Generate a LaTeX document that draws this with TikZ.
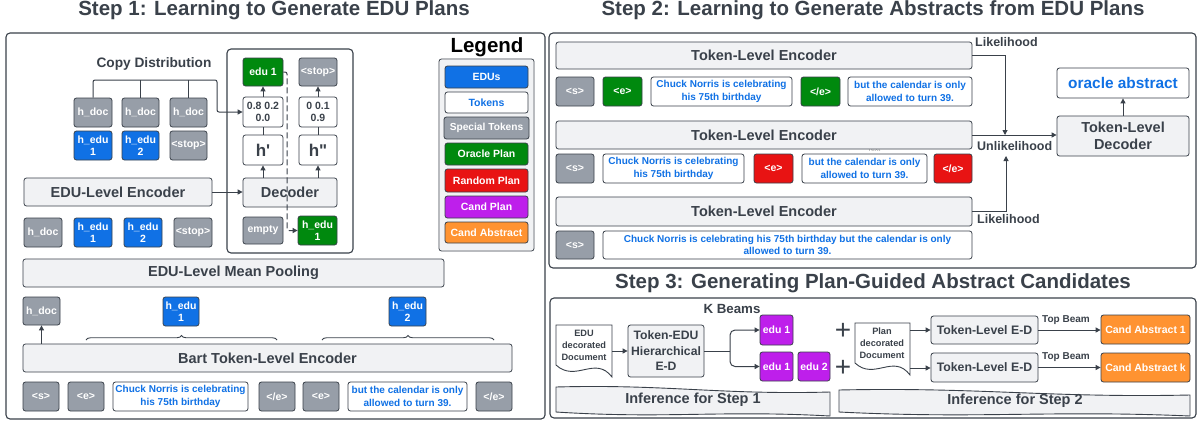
\documentclass[tikz,border=0pt]{standalone}
\usepackage{fontspec}
\setmainfont{Liberation Sans}
\newfontfamily\nomapfont{Liberation Sans}[Ligatures=TeXOff]
\usetikzlibrary{arrows.meta,decorations.pathreplacing}
\definecolor{bd}{HTML}{3A414A}
\definecolor{txt}{HTML}{3A414A}
\definecolor{lgray}{HTML}{F1F2F4}
\definecolor{sgray}{HTML}{979EA8}
\definecolor{eblue}{HTML}{1071E5}
\definecolor{ogreen}{HTML}{00890E}
\definecolor{rred}{HTML}{E81313}
\definecolor{cpurple}{HTML}{BE1FEB}
\definecolor{corange}{HTML}{FF9331}
\newcommand{\fs}[2]{\fontsize{#1}{#2}\selectfont}
\newcommand{\bx}[7]{\node[#2, minimum width={#5-#3}, minimum height={#6-#4}] (#1) at ({(#3+#5)/2},{(#4+#6)/2}) {#7};}
\newcommand{\banner}[4]{\path[draw=bd, line width=0.9pt, fill=lgray] (#1,#2) .. controls ({#1+0.4*(#3-#1)},{#2-3}) and ({#1+0.6*(#3-#1)},{#2+8}) .. (#3,{#2+5}) -- (#3,#4) .. controls ({#1+0.6*(#3-#1)},{#4-6}) and ({#1+0.4*(#3-#1)},{#4+3}) .. (#1,{#4-4}) -- cycle;}
\newcommand{\docshp}[4]{\path[draw=bd, line width=0.9pt, fill=white] (#1,{#4-12}) -- (#1,#2) -- (#3,#2) -- (#3,#4) .. controls ({#1+0.7*(#3-#1)},{#4-22}) and ({#1+0.35*(#3-#1)},{#4+6}) .. (#1,{#4-12}) -- cycle;}
\tikzset{
  bxs/.style={draw=bd, line width=0.8pt, rounded corners=2.5pt, align=center, inner sep=0pt, font=\bfseries\fs{10.5}{12.5}},
  sp/.style={bxs, fill=sgray, text=white},
  edu/.style={bxs, fill=eblue, text=white},
  tok/.style={bxs, fill=white, text=eblue, font=\bfseries\fs{10}{12.5}},
  orc/.style={bxs, fill=ogreen, text=white},
  rnd/.style={bxs, fill=rred, text=white},
  cpl/.style={bxs, fill=cpurple, text=white},
  cab/.style={bxs, fill=corange, text=white},
  wht/.style={bxs, fill=white, text=txt},
  encs/.style={bxs, fill=lgray, text=txt, font=\bfseries\fs{14.5}{17.5}},
  outerbox/.style={draw=bd, line width=1.1pt, rounded corners=4pt, inner sep=0pt, fill=white},
  ttl/.style={text=txt, font=\bfseries\fs{20.5}{24}, inner sep=0pt},
  lbl/.style={text=txt, font=\bfseries\fs{12.5}{15}, inner sep=0pt},
  docl/.style={text=txt, align=center, font=\bfseries\fs{9.2}{12}, inner sep=0pt},
  arr/.style={draw=bd, line width=1pt, -{Triangle[length=5pt,width=5pt]}},
  ln/.style={draw=bd, line width=1pt},
}
\begin{document}
\begin{tikzpicture}[x=1pt,y=-1pt]
\useasboundingbox (0,0) rectangle (1198,423);
% ---------------- Step 1 ----------------
\node[ttl] (t1) at (274,10) {Step 1: Learning to Generate EDU Plans};
\bx{s1}{outerbox}{6}{33}{545}{419}{}
\node[lbl, font=\bfseries\fs{13.7}{16}] (cd) at (154,64) {Copy Distribution};
\bx{hd1}{sp}{74}{98}{112}{127}{h\_doc}
\bx{hd2}{sp}{122}{98}{159}{127}{h\_doc}
\bx{hd3}{sp}{170}{98}{207}{127}{h\_doc}
\bx{he1}{edu}{74}{131}{112}{160}{h\_edu\\1}
\bx{he2}{edu}{122}{131}{159}{160}{h\_edu\\2}
\bx{st1}{sp}{170}{131}{207}{160}{<stop>}
\bx{dg}{outerbox}{227}{49}{353}{253}{}
\bx{e1}{orc}{243}{58}{283}{86}{edu 1}
\bx{stp}{sp}{299}{58}{337}{86}{<stop>}
\bx{p1}{wht}{243}{97}{283}{127}{0.8 0.2\\0.0}
\bx{p2}{wht}{299}{97}{337}{127}{0 0.1\\0.9}
\bx{hp}{wht, font=\nomapfont\bfseries\fs{17}{20}}{243}{135}{283}{165}{h'}
\bx{hpp}{wht, font=\nomapfont\bfseries\fs{17}{20}}{299}{135}{337}{165}{h"}
\bx{dec}{encs}{243}{178}{337}{207}{Decoder}
\bx{emp}{sp}{243}{217}{283}{244}{empty}
\bx{heg}{orc}{298}{216}{337}{245}{h\_edu\\1}
\coordinate (cdc) at (217,80);
\draw[arr, rounded corners=2pt] (hd1.north) |- (cdc) |- (p1.west);
\draw[ln] (hd2.north) -- (hd2.north |- cdc);
\draw[ln] (hd3.north) -- (hd3.north |- cdc);
\draw[ln] (hp.north) -- (p1.south);
\draw[ln] (hpp.north) -- (p2.south);
\draw[arr] (p1.north) -- (e1.south);
\draw[arr] (p2.north) -- (stp.south);
\draw[arr] (dec.north -| hp.south) -- (hp.south);
\draw[arr] (dec.north -| hpp.south) -- (hpp.south);
\draw[arr, dash pattern=on 6pt off 3pt, rounded corners=2pt] (e1.east) -- (287,72) |- (heg.west);
\bx{enc}{encs}{24}{178}{212}{206}{EDU-Level Encoder}
\draw[arr] (enc.east) -- (enc.east -| dec.west);
\bx{r1}{sp}{24}{218}{62}{247}{h\_doc}
\bx{r2}{edu}{74}{218}{112}{247}{h\_edu\\1}
\bx{r3}{edu}{124}{218}{162}{247}{h\_edu\\2}
\bx{r4}{sp}{174}{218}{212}{247}{<stop>}
\bx{pool}{encs}{23}{259}{444}{287}{EDU-Level Mean Pooling}
\bx{hdb}{sp}{23}{297}{60}{325}{h\_doc}
\bx{hb1}{edu}{163}{297}{199}{326}{h\_edu\\1}
\bx{hb2}{edu}{389}{297}{426}{326}{h\_edu\\2}
\bx{bart}{encs}{23}{344}{512}{372}{Bart Token-Level Encoder}
\draw[arr] (hdb.south |- bart.north) -- (hdb.south);
\draw[ln, line width=0.9pt, decorate, decoration={brace, amplitude=4.5pt}] (86,340) coordinate (br1a) -- (277,340) coordinate (br1b);
\draw[ln, line width=0.9pt, decorate, decoration={brace, amplitude=4.5pt}] (322,340) coordinate (br2a) -- (494,340) coordinate (br2b);
\bx{ts}{sp}{23}{382}{59}{411}{<s>}
\bx{tea}{sp}{68}{382}{104}{411}{<e>}
\bx{tc}{tok}{113}{382}{248}{411}{Chuck Norris is celebrating\\his 75th birthday}
\bx{tea2}{sp}{259}{382}{295}{411}{</e>}
\bx{teb}{sp}{303}{382}{339}{411}{<e>}
\bx{tb}{tok}{348}{382}{467}{411}{but the calendar is only\\allowed to turn 39.}
\bx{teb2}{sp}{476}{382}{512}{411}{</e>}
% legend
\node[inner sep=0pt, font=\bfseries\fs{20.5}{24}] (lgt) at (487,47) {Legend};
\bx{lg}{bxs}{439}{59}{534}{251}{}
\path[fill=lgray] (lg.north west) ++(1,1) rectangle ([xshift=-1pt,yshift=1pt]lg.south east);
\bx{l1}{edu}{445}{66}{528}{88}{EDUs}
\bx{l2}{tok, font=\bfseries\fs{10.5}{12}}{445}{92}{528}{113}{Tokens}
\bx{l3}{sp, font=\bfseries\fs{10.2}{12}}{444}{117}{529}{139}{Special Tokens}
\bx{l4}{orc}{445}{143}{528}{165}{Oracle Plan}
\bx{l5}{rnd}{445}{169}{528}{192}{Random Plan}
\bx{l6}{cpl}{445}{196}{528}{218}{Cand Plan}
\bx{l7}{cab}{445}{222}{528}{243}{Cand Abstract}
% ---------------- Step 2 ----------------
\node[ttl] (t2) at (873,10) {Step 2: Learning to Generate Abstracts from EDU Plans};
\bx{s2}{outerbox}{549}{33}{1196}{268}{}
\bx{enc1}{encs}{556}{42}{972}{69}{Token-Level Encoder}
\bx{a1}{sp}{556}{77}{594}{106}{<s>}
\bx{a2}{orc}{603}{77}{642}{106}{<e>}
\bx{a3}{tok}{651}{77}{792}{106}{Chuck Norris is celebrating\\his 75th birthday}
\bx{a4}{orc}{801}{77}{840}{106}{</e>}
\bx{a5}{tok}{848}{77}{972}{106}{but the calendar is only\\allowed to turn 39.}
\node[text=gray!70, font=\fs{7}{8}, inner sep=0pt] (txtart) at (874,149) {Text};
\bx{enc2}{encs}{556}{121}{972}{149}{Token-Level Encoder}
\bx{b1x}{sp}{556}{154}{594}{183}{<s>}
\bx{b2x}{tok}{603}{154}{744}{183}{Chuck Norris is celebrating\\his 75th birthday}
\bx{b3x}{rnd}{754}{154}{793}{183}{<e>}
\bx{b4x}{tok}{802}{154}{927}{183}{but the calendar is only\\allowed to turn 39.}
\bx{b5x}{rnd}{934}{154}{972}{183}{</e>}
\bx{enc3}{encs}{556}{197}{972}{226}{Token-Level Encoder}
\bx{c1x}{sp}{556}{231}{594}{259}{<s>}
\bx{c2x}{tok}{603}{231}{972}{259}{Chuck Norris is celebrating his 75th birthday but the calendar is only\\allowed to turn 39.}
\bx{orac}{wht, text=eblue, font=\bfseries\fs{15.4}{18}}{1057}{68}{1189}{98}{oracle abstract}
\bx{tdec}{encs}{1057}{116}{1189}{156}{Token-Level\\Decoder}
\coordinate (j1) at (1005,135);
\coordinate (j2) at (1006,156);
\draw[arr] (enc1.east) -| (j1);
\draw[arr] (enc2.east) -- (enc2.east -| tdec.west);
\draw[arr] (enc3.east) -| (j2);
\draw[arr] (tdec.north) -- (orac.south);
\node[lbl, anchor=west] (lk1) at (975,42) {Likelihood};
\node[lbl, anchor=west] (ulk) at (977,146) {Unlikelihood};
\node[lbl, anchor=west] (lk2) at (977,219) {Likelihood};
% ---------------- Step 3 ----------------
\node[ttl] (t3) at (873,283) {Step 3: Generating Plan-Guided Abstract Candidates};
\bx{s3}{outerbox}{550}{298}{1196}{418}{}
\node[lbl, font=\bfseries\fs{13.3}{16}] (kb) at (732,309) {K Beams};
\docshp{556}{325}{612}{377}
\node[docl] (doc1) at (584,345) {EDU\\decorated\\Document};
\bx{ted}{encs, font=\bfseries\fs{12.2}{15.5}}{628}{325}{704}{377}{Token-EDU\\Hierarchical\\E-D}
\draw[arr] (612,351) -- (ted.west |- 612,351);
\bx{k1}{cpl}{760}{315}{793}{345}{edu 1}
\bx{k2}{cpl}{760}{352}{793}{381}{edu 1}
\bx{k3}{cpl}{798}{352}{830}{381}{edu 2}
\coordinate (kj) at (730,351);
\draw[ln] (ted.east) -- (kj);
\draw[arr, rounded corners=5pt] (kj) |- (k1.west);
\draw[arr, rounded corners=5pt] (kj) |- (k2.west);
\node[text=txt, font=\fs{28}{30}, inner sep=0pt] (pl1) at (843,331) {+};
\node[text=txt, font=\fs{28}{30}, inner sep=0pt] (pl2) at (843,368) {+};
\docshp{855}{323}{910}{375}
\node[docl] (doc2) at (882,343) {Plan\\decorated\\Document};
\bx{tle1}{encs, font=\bfseries\fs{12.3}{15}}{931}{316}{1038}{344}{Token-Level E-D}
\bx{tle2}{encs, font=\bfseries\fs{12.3}{15}}{931}{353}{1038}{382}{Token-Level E-D}
\draw[arr] (910,330) -- (tle1.west |- 910,330);
\draw[arr] (910,368) -- (tle2.west |- 910,368);
\bx{ca1}{cab}{1101}{315}{1190}{344}{Cand Abstract 1}
\bx{cak}{cab}{1101}{353}{1190}{382}{Cand Abstract k}
\draw[arr] (tle1.east) -- (tle1.east -| ca1.west);
\draw[arr] (tle2.east) -- (tle2.east -| cak.west);
\node[lbl, font=\bfseries\fs{10}{12}] (tb1) at (1066,320) {Top Beam};
\node[lbl, font=\bfseries\fs{10}{12}] (tb2) at (1066,357) {Top Beam};
\banner{556}{387}{830}{416}
\node[lbl, font=\bfseries\fs{14.5}{17}] (inf1) at (693,400) {Inference for Step 1};
\banner{839}{390}{1190}{416}
\node[lbl, font=\bfseries\fs{14.5}{17}] (inf2) at (1015,401) {Inference for Step 2};
\end{tikzpicture}
\end{document}
